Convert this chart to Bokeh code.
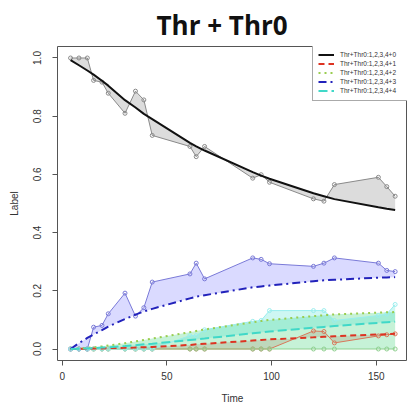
from bokeh.plotting import figure
from bokeh.models import Range1d, Legend, LegendItem, FixedTicker, PrintfTickFormatter
from bokeh.embed import file_html
from bokeh.resources import INLINE

time = [4, 8, 12, 15, 19, 22, 30, 35, 39, 43, 61, 64, 68, 91, 95, 99, 120, 125, 130, 151, 155, 159]

obs0 = [1.0, 1.0, 1.0, 0.923, 0.917, 0.879, 0.81, 0.886, 0.856, 0.734, 0.696, 0.661, 0.696,
        0.587, 0.599, 0.573, 0.516, 0.508, 0.565, 0.590, 0.558, 0.525]
fit0 = [0.993, 0.975, 0.957, 0.943, 0.922, 0.905, 0.855, 0.830, 0.808, 0.790, 0.708, 0.696, 0.682,
        0.608, 0.596, 0.585, 0.535, 0.525, 0.515, 0.487, 0.482, 0.478]

obs1 = [0, 0, 0, 0, 0, 0, 0, 0, 0, 0, 0, 0, 0, 0, 0, 0, 0.062, 0.060, 0.021, 0.045, 0.049, 0.052]
fit1 = [0.0, 0.0005, 0.001, 0.0015, 0.002, 0.003, 0.004, 0.005, 0.006, 0.007, 0.014, 0.016, 0.018,
        0.029, 0.031, 0.033, 0.040, 0.042, 0.044, 0.050, 0.051, 0.052]

obs2 = [0] * 22
fit2 = [0.0, 0.002, 0.004, 0.006, 0.009, 0.012, 0.020, 0.026, 0.031, 0.036, 0.058, 0.062, 0.067,
        0.092, 0.096, 0.100, 0.113, 0.116, 0.119, 0.125, 0.126, 0.127]

obs3 = [0, 0, 0, 0.075, 0.081, 0.121, 0.192, 0.113, 0.142, 0.230, 0.258, 0.295, 0.241,
        0.313, 0.308, 0.293, 0.284, 0.295, 0.313, 0.295, 0.270, 0.266]
fit3 = [0.0, 0.020, 0.038, 0.050, 0.065, 0.077, 0.103, 0.118, 0.129, 0.138, 0.174, 0.180, 0.185,
        0.212, 0.215, 0.218, 0.233, 0.236, 0.238, 0.245, 0.246, 0.247]

obs4 = [0, 0, 0, 0, 0, 0, 0, 0, 0, 0, 0.046, 0.046, 0.066, 0.095, 0.098, 0.132, 0.132, 0.132,
        0.098, 0.115, 0.120, 0.153]
fit4 = [0.0, 0.001, 0.002, 0.003, 0.005, 0.006, 0.010, 0.013, 0.016, 0.018, 0.031, 0.033, 0.036,
        0.054, 0.057, 0.060, 0.073, 0.076, 0.079, 0.090, 0.092, 0.094]

labels = ["Thr+Thr0:1,2,3,4+0", "Thr+Thr0:1,2,3,4+1", "Thr+Thr0:1,2,3,4+2",
          "Thr+Thr0:1,2,3,4+3", "Thr+Thr0:1,2,3,4+4"]
x_ticks = [0, 50, 100, 150]
y_ticks = [0.0, 0.2, 0.4, 0.6, 0.8, 1.0]

series = [
    dict(obs=obs0, fit=fit0, fill="#9a9a9a", falpha=0.35, ocol="#8a8a8a", fcol="#111111", dash="solid"),
    dict(obs=obs1, fit=fit1, fill="#c0392b", falpha=0.18, ocol="#d9785a", fcol="#dd3322", dash="6 4"),
    dict(obs=obs2, fit=fit2, fill="#22cc66", falpha=0.26, ocol="#8fd08f", fcol="#9acd50", dash="2 4"),
    dict(obs=obs3, fit=fit3, fill="#3333ff", falpha=0.18, ocol="#7a7ad8", fcol="#2222bb", dash="8 4 2 4"),
    dict(obs=obs4, fit=fit4, fill="#40e0d0", falpha=0.26, ocol="#9aeeee", fcol="#40d8c8", dash="9 4"),
]

p = figure(width=407, height=407, x_range=Range1d(-2.24, 164.9), y_range=Range1d(-0.0395, 1.0395),
           output_backend="svg", toolbar_location=None, title="Thr + Thr0",
           min_border_left=57, min_border_right=0, min_border_top=46, min_border_bottom=47)
p.title.text_font = "Open Sans"
p.title.text_font_style = "bold"
p.title.text_font_size = "26px"
p.title.text_color = "#111111"
p.title.align = "left"
p.title.offset = 99
p.title.standoff = 8

p.xgrid.visible = False
p.ygrid.visible = False
p.outline_line_color = "#555555"
p.outline_line_width = 1

for ax in (p.xaxis[0], p.yaxis[0]):
    ax.axis_line_color = None
    ax.major_tick_out = 5
    ax.major_tick_in = 0
    ax.minor_tick_out = 0
    ax.minor_tick_in = 0
    ax.major_tick_line_color = "#555555"
    ax.major_label_text_font = "Liberation Sans"
    ax.major_label_text_font_size = "10px"
    ax.major_label_text_color = "#333333"
    ax.axis_label_text_font = "Liberation Sans"
    ax.axis_label_text_font_size = "10px"
    ax.axis_label_text_font_style = "normal"
    ax.axis_label_text_color = "#333333"

p.xaxis.ticker = FixedTicker(ticks=x_ticks)
p.yaxis.ticker = FixedTicker(ticks=y_ticks)
p.yaxis.formatter = PrintfTickFormatter(format="%.1f")
p.yaxis.major_label_orientation = "parallel"
p.xaxis.axis_label = "Time"
p.yaxis.axis_label = "Label"
p.xaxis.major_label_standoff = 6
p.xaxis.axis_label_standoff = 10
p.yaxis.major_label_standoff = 11
p.yaxis.axis_label_standoff = 11

for s in series:
    p.varea(x=time, y1=s["obs"], y2=s["fit"], fill_color=s["fill"], fill_alpha=s["falpha"])
for s in series:
    p.line(time, s["obs"], line_color=s["ocol"], line_width=1)
    p.scatter(time, s["obs"], marker="circle", size=4, fill_color=None, line_color=s["ocol"], line_width=1)

items = []
for s, lab in zip(series, labels):
    r = p.line(time, s["fit"], line_color=s["fcol"], line_width=2, line_dash=s["dash"])
    items.append(LegendItem(label=lab, renderers=[r]))

legend = Legend(items=items, location=(255, 259), margin=0, padding=5, spacing=0,
                label_height=9, glyph_height=9, glyph_width=16, label_standoff=6, label_width=62,
                label_text_font="Liberation Sans", label_text_font_size="6.5px",
                label_text_color="#333333", border_line_color="#555555", border_line_width=1,
                background_fill_color="white", background_fill_alpha=1)
p.add_layout(legend)

open("out.html", "w").write(file_html(p, INLINE))
